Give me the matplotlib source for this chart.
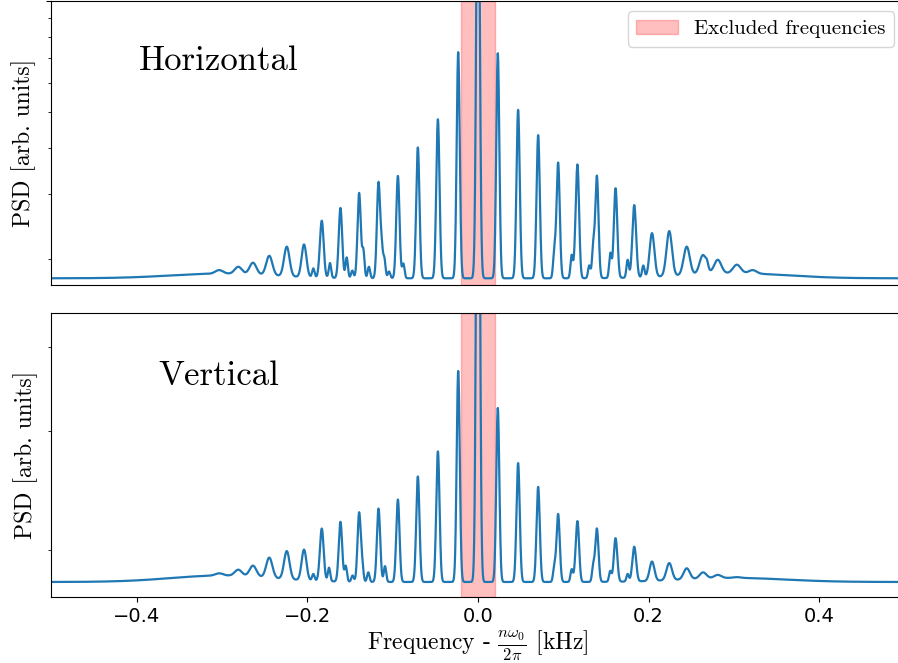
import numpy as np
import matplotlib.pyplot as plt
from matplotlib.ticker import NullFormatter

plt.rcParams['mathtext.fontset'] = 'cm'

# sideband positions [kHz], same for both traces
peak_freq = [-0.3034, -0.2809, -0.2637, -0.2446, -0.2241, -0.2039, -0.1831, -0.1612,
             -0.1393, -0.1166, -0.0939, -0.0705, -0.0470, -0.0232, 0.0,
             0.0232, 0.0470, 0.0705, 0.0939, 0.1166, 0.1393, 0.1612, 0.1831,
             0.2039, 0.2241, 0.2446, 0.2637, 0.2809, 0.3034, 0.3219]
peak_width = [0.0045, 0.0042, 0.0040, 0.0036, 0.0032, 0.0028, 0.0022, 0.0020,
              0.0019, 0.0019, 0.0019, 0.0019, 0.0019, 0.0018, 0.0019,
              0.0018, 0.0019, 0.0019, 0.0019, 0.0019, 0.0019, 0.0020, 0.0022,
              0.0028, 0.0032, 0.0036, 0.0040, 0.0042, 0.0045, 0.0045]

# peak PSD values
horiz_peak = [1.866, 1.905, 1.954, 2.04, 2.16, 2.19, 2.54, 2.75, 3.02, 3.22, 3.36, 4.01, 4.78, 7.27,
              40.0,
              7.22, 5.07, 4.33, 3.65, 3.57, 3.36, 3.11, 2.80, 2.35, 2.38, 2.16, 2.05, 1.99, 1.93, 1.866]
vert_peak = [1.844, 1.867, 1.893, 1.946, 1.99, 2.00, 2.15, 2.20, 2.27, 2.30, 2.375, 2.57, 2.80, 3.69,
             20.0,
             3.25, 2.69, 2.48, 2.26, 2.20, 2.15, 2.08, 2.02, 1.92, 1.91, 1.876, 1.85, 1.834, 1.82, 1.81]

# small split peaks next to the main ones
horiz_sub_freq = [-0.1930, -0.1735, -0.1539, -0.1473, -0.1344, -0.1279, -0.1129, -0.1098, -0.1043,
                  -0.0875, 0.0894, 0.1098, 0.1137, 0.1304, 0.1350, 0.1551, 0.1754, 0.1937, 0.2684]
horiz_sub = [1.886, 1.95, 2.02, 1.86, 2.14, 1.905, 2.28, 2.00, 1.85,
             1.945, 2.18, 2.05, 2.40, 1.92, 2.24, 2.08, 1.99, 1.92, 1.99]
vert_sub_freq = [-0.1930, -0.1746, -0.1550, -0.1470, -0.1356, -0.1286, -0.1140, -0.1090,
                 0.0894, 0.1098, 0.1137, 0.1350, 0.1550, 0.1754]
vert_sub = [1.84, 1.88, 1.893, 1.83, 1.948, 1.85, 1.98, 1.89,
            1.91, 1.87, 1.948, 1.91, 1.86, 1.84]

# noise floor
horiz_base = 1.773
vert_base = 1.79
hump_freq = [-0.30, 0.30]
hump_width = 0.06
horiz_hump = [1.825, 1.83]
vert_hump = [1.83, 1.815]

freq = np.linspace(-0.5, 0.5, 4001)


def bg_log(x, base, hump):
    out = np.log10(base) + 0 * np.asarray(x, dtype=float)
    for c, h in zip(hump_freq, hump):
        out = out + np.log10(h / base) * np.exp(-0.5 * ((x - c) / hump_width) ** 2)
    return out


def make_trace(base, hump, peaks, sub_f, sub_v):
    lg = bg_log(freq, base, hump)
    for c, w, v in zip(peak_freq, peak_width, peaks):
        a = max(np.log10(v) - bg_log(c, base, hump), 0)
        lg = lg + a * np.exp(-0.5 * ((freq - c) / w) ** 2)
    main = lg.copy()
    for c, v in zip(sub_f, sub_v):
        a = max(np.log10(v) - np.interp(c, freq, main), 0.003)
        lg = lg + a * np.exp(-0.5 * ((freq - c) / 0.0014) ** 2)
    return 10 ** lg


horiz = make_trace(horiz_base, horiz_hump, horiz_peak, horiz_sub_freq, horiz_sub)
vert = make_trace(vert_base, vert_hump, vert_peak, vert_sub_freq, vert_sub)

fig = plt.figure(figsize=(8.98, 6.63), dpi=100)
ax1 = fig.add_axes([0.0572, 0.5701, 0.9502, 0.4284])
ax2 = fig.add_axes([0.0572, 0.0995, 0.9502, 0.4284])

for ax, y, ylim, name, ty in [(ax1, horiz, (1.70, 10.0), 'Horizontal', 0.757),
                              (ax2, vert, (1.70, 4.5), 'Vertical', 0.7465)]:
    ax.axvspan(-0.02, 0.02, color='red', alpha=0.25, label='Excluded frequencies')
    ax.plot(freq, y, color='C0', lw=1.6)
    ax.set_yscale('log')
    ax.set_ylim(*ylim)
    ax.set_xlim(-0.5, 0.5)
    ax.yaxis.set_major_formatter(NullFormatter())
    ax.yaxis.set_minor_formatter(NullFormatter())
    ax.set_ylabel('PSD [arb. units]', fontsize=17, fontfamily='cmr10', labelpad=4)
    ax.text(0.196, ty, name, transform=ax.transAxes, fontsize=25, fontfamily='cmr10',
            ha='center', va='baseline')
    ax.tick_params(axis='x', labelsize=14)

ax1.tick_params(axis='x', bottom=False, labelbottom=False)
ax1.legend(loc='upper right', prop={'family': 'cmr10', 'size': 15})
ax2.set_xticks([-0.4, -0.2, 0.0, 0.2, 0.4])
ax2.set_xlabel(r'Frequency - $\frac{n\omega_0}{2\pi}$ [kHz]', fontsize=17, fontfamily='cmr10',
               labelpad=2)

fig.savefig('out.png', dpi=100)
